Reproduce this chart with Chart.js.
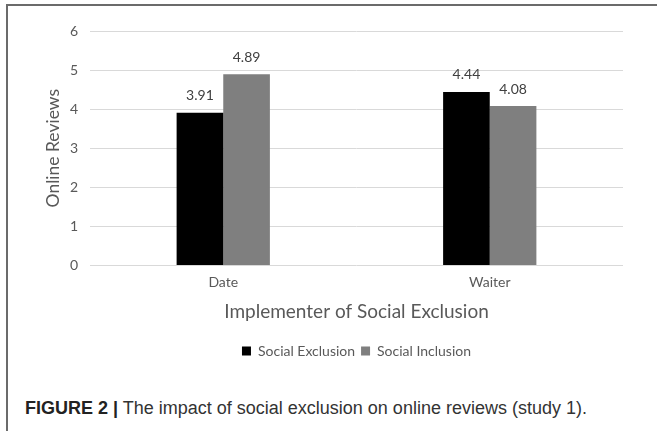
<!DOCTYPE html>
<html>
<head>
<meta charset="utf-8">
<script src="https://cdn.jsdelivr.net/npm/chart.js@4.4.1/dist/chart.umd.min.js"></script>
<style>
  html, body { margin: 0; padding: 0; background: #fff; }
  body { width: 657px; height: 431px; position: relative; overflow: hidden; }
  #frame { position: absolute; left: 6px; top: 4px; width: 660px; height: 440px;
           border-top: 2px solid #6b6b6b; border-left: 2px solid #6b6b6b; box-sizing: border-box; }
  #wrap { position: absolute; left: 0; top: 0; width: 657px; height: 372px; }
  #caption { position: absolute; left: 25px; top: 398px; font-family: "Liberation Sans", Arial, sans-serif;
             font-size: 18px; color: #333; white-space: nowrap; }
  #caption b { color: #222; }
</style>
</head>
<body>
<div id="frame"></div>
<div id="wrap"><canvas id="chart"></canvas></div>
<div id="caption"><b>FIGURE 2 |</b> The impact of social exclusion on online reviews (study 1).</div>
<script>
const categories = ["Date", "Waiter"];
const seriesNames = ["Social Exclusion", "Social Inclusion"];
const exclusionValues = [3.91, 4.44];
const inclusionValues = [4.89, 4.08];
const yTicks = [0, 1, 2, 3, 4, 5, 6];

const labelFont = 'Lato, "Open Sans", sans-serif';
const textGray = '#595959';

// Value labels above each bar, positioned from the bar elements
const valueLabels = {
  id: 'valueLabels',
  afterDatasetsDraw(chart) {
    const ctx = chart.ctx;
    ctx.save();
    ctx.font = '14px ' + labelFont;
    ctx.fillStyle = '#404040';
    ctx.textAlign = 'center';
    ctx.textBaseline = 'bottom';
    chart.data.datasets.forEach((ds, i) => {
      chart.getDatasetMeta(i).data.forEach((bar, j) => {
        ctx.fillText(ds.data[j].toFixed(2), bar.x, bar.y - 10);
      });
    });
    ctx.restore();
  }
};

// Centre the legend under the plot area rather than the whole canvas
const legendUnderPlot = {
  id: 'legendUnderPlot',
  afterLayout(chart) {
    const lg = chart.legend;
    if (!lg) return;
    const shift = (chart.chartArea.left + chart.chartArea.right) / 2 - (lg.left + lg.right) / 2;
    lg.left += shift;
    lg.right += shift;
  }
};

new Chart(document.getElementById('chart'), {
  type: 'bar',
  data: {
    labels: categories,
    datasets: [
      { label: seriesNames[0], data: exclusionValues, backgroundColor: '#000000' },
      { label: seriesNames[1], data: inclusionValues, backgroundColor: '#7f7f7f' }
    ]
  },
  options: {
    responsive: true,
    maintainAspectRatio: false,
    animation: false,
    categoryPercentage: 0.35,
    barPercentage: 1.0,
    layout: { padding: { left: 39, right: 34, top: 31, bottom: 4 } },
    plugins: {
      tooltip: { enabled: false },
      legend: {
        position: 'bottom',
        labels: {
          boxWidth: 9, boxHeight: 9, padding: 6,
          color: textGray,
          font: { family: labelFont, size: 14 }
        }
      }
    },
    scales: {
      x: {
        grid: { display: false, drawTicks: false },
        border: { display: false },
        ticks: { color: textGray, font: { family: labelFont, size: 14 }, padding: 9 },
        title: {
          display: true, text: 'Implementer of Social Exclusion', color: textGray,
          font: { family: labelFont, size: 19 }, padding: { top: 0, bottom: 15 }
        }
      },
      y: {
        min: 0, max: 6,
        afterBuildTicks(scale) { scale.ticks = yTicks.map(v => ({ value: v })); },
        afterFit(scale) { scale.width = 51; },
        grid: { color: '#d9d9d9', lineWidth: 1, drawTicks: false },
        border: { display: false },
        ticks: { color: textGray, font: { family: labelFont, size: 14 }, padding: 12 },
        title: {
          display: true, text: 'Online Reviews', color: textGray,
          font: { family: labelFont, size: 17.5 }, padding: { top: 4, bottom: 0 }
        }
      }
    }
  },
  plugins: [valueLabels, legendUnderPlot]
});
</script>
</body>
</html>
